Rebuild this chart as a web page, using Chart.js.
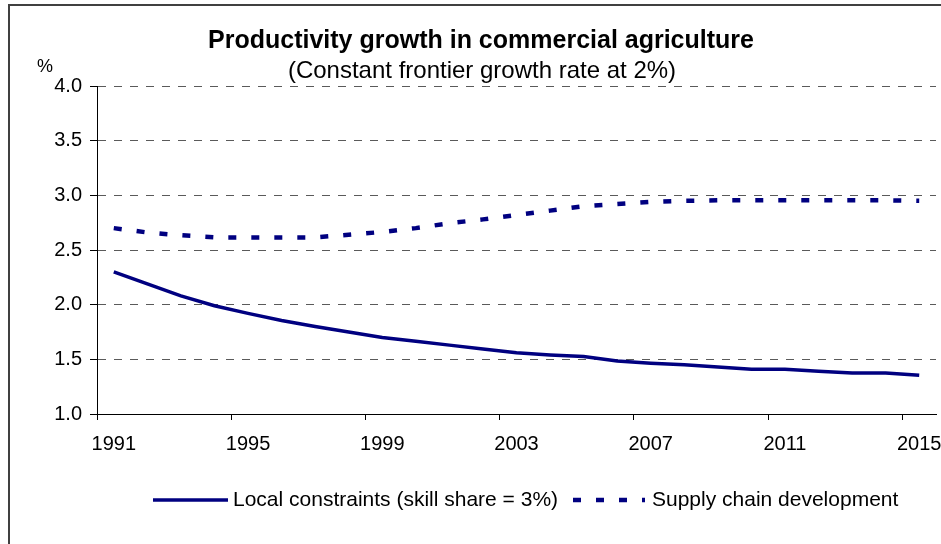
<!DOCTYPE html>
<html lang="en">
<head>
  <meta charset="UTF-8">
  <title>Productivity growth in commercial agriculture</title>
  <style>
    body {
      margin: 0;
      background-color: #ffffff;
    }
    #wrap {
      width: 941px;
      height: 544px;
    }
  </style>
  <script src="https://cdn.jsdelivr.net/npm/chart.js"></script>
</head>
<body>

<div id="wrap"><canvas id="myChart"></canvas></div>

<script>
  const years = ['1991', '1992', '1993', '1994', '1995', '1996', '1997', '1998', '1999', '2000',
                 '2001', '2002', '2003', '2004', '2005', '2006', '2007', '2008', '2009', '2010',
                 '2011', '2012', '2013', '2014', '2015'];
  const localConstraints = [2.30, 2.19, 2.08, 1.99, 1.92, 1.855, 1.80, 1.75, 1.70, 1.665,
                            1.63, 1.595, 1.56, 1.54, 1.525, 1.485, 1.465, 1.45, 1.43, 1.41,
                            1.41, 1.39, 1.375, 1.375, 1.355];
  const supplyChain = [2.70, 2.66, 2.635, 2.615, 2.615, 2.615, 2.615, 2.64, 2.665, 2.70,
                       2.745, 2.78, 2.82, 2.86, 2.90, 2.92, 2.94, 2.95, 2.955, 2.955,
                       2.955, 2.955, 2.955, 2.955, 2.95];
  const seriesNames = ['Local constraints (skill share = 3%)', 'Supply chain development'];
  const titleText = 'Productivity growth in commercial agriculture';
  const subtitleText = '(Constant frontier growth rate at 2%)';
  const unitText = '%';

  const FONT = "'Liberation Sans', Arial, sans-serif";
  const NAVY = '#000080';

  // title, unit label, legend and frame drawn on the canvas
  const decorations = {
    id: 'decorations',
    afterDraw(chart) {
      const ctx = chart.ctx;
      ctx.save();

      // frame
      ctx.strokeStyle = '#404040';
      ctx.lineWidth = 2;
      ctx.beginPath();
      ctx.moveTo(9, 544);
      ctx.lineTo(9, 5);
      ctx.lineTo(941, 5);
      ctx.stroke();

      ctx.fillStyle = '#000';
      ctx.textAlign = 'center';
      ctx.textBaseline = 'alphabetic';
      ctx.font = 'bold 25px ' + FONT;
      ctx.fillText(titleText, 481, 47.5);
      ctx.font = '24px ' + FONT;
      ctx.fillText(subtitleText, 482, 77.5);
      ctx.font = '18px ' + FONT;
      ctx.fillText(unitText, 45, 72);

      // legend
      const items = [
        { ds: chart.data.datasets[0], x0: 153, x1: 228, tx: 233 },
        { ds: chart.data.datasets[1], x0: 573, x1: 645, tx: 652 }
      ];
      const ly = 500;
      ctx.font = '21px ' + FONT;
      ctx.textAlign = 'left';
      ctx.textBaseline = 'middle';
      items.forEach(it => {
        ctx.save();
        ctx.strokeStyle = it.ds.borderColor;
        ctx.lineWidth = it.ds.borderWidth;
        ctx.setLineDash(it.ds.borderDash || []);
        ctx.beginPath();
        ctx.moveTo(it.x0, ly);
        ctx.lineTo(it.x1, ly);
        ctx.stroke();
        ctx.restore();
        ctx.fillText(it.ds.label, it.tx, ly);
      });

      ctx.restore();
    }
  };

  const ctx = document.getElementById('myChart').getContext('2d');

  const chart = new Chart(ctx, {
    type: 'line',
    data: {
      labels: years,
      datasets: [{
        label: seriesNames[0],
        data: localConstraints,
        borderColor: NAVY,
        borderWidth: 3.5,
        pointRadius: 0,
        tension: 0,
        fill: false
      }, {
        label: seriesNames[1],
        data: supplyChain,
        borderColor: NAVY,
        borderWidth: 4.5,
        borderDash: [8, 15],
        borderCapStyle: 'butt',
        pointRadius: 0,
        tension: 0,
        fill: false
      }]
    },
    options: {
      responsive: true,
      maintainAspectRatio: false,
      animation: false,
      layout: {
        padding: { left: 0, right: 5, top: 86, bottom: 0 }
      },
      scales: {
        x: {
          offset: true,
          grid: {
            offset: true,
            drawOnChartArea: false,
            drawTicks: true,
            tickLength: 6,
            color: (c) => (c.index % 4 === 0 ? '#000' : 'rgba(0,0,0,0)'),
            lineWidth: 1
          },
          border: { display: true, color: '#000', width: 1 },
          ticks: {
            autoSkip: false,
            maxRotation: 0,
            padding: 12,
            color: '#000',
            font: { family: FONT, size: 20 },
            callback: function (val, index) {
              return index % 4 === 0 ? this.getLabelForValue(val) : '';
            }
          },
          afterFit: (scale) => {
            scale.height = 130;
            scale.paddingLeft = 0;
            scale.paddingRight = 0;
          }
        },
        y: {
          min: 1,
          max: 4,
          grid: {
            color: (c) => (c.tick && c.tick.value === 1 ? 'rgba(0,0,0,0)' : '#5a5a5a'),
            tickColor: '#000',
            tickLength: 7,
            tickBorderDash: [],
            lineWidth: 1
          },
          border: { display: true, color: '#000', width: 1, dash: [8, 8] },
          ticks: {
            stepSize: 0.5,
            padding: 8,
            color: '#000',
            font: { family: FONT, size: 20 },
            callback: (v) => v.toFixed(1)
          },
          afterFit: (scale) => { scale.width = 97; }
        }
      },
      plugins: {
        legend: { display: false },
        title: { display: false },
        tooltip: { enabled: false }
      }
    },
    plugins: [decorations]
  });
</script>

</body>
</html>
